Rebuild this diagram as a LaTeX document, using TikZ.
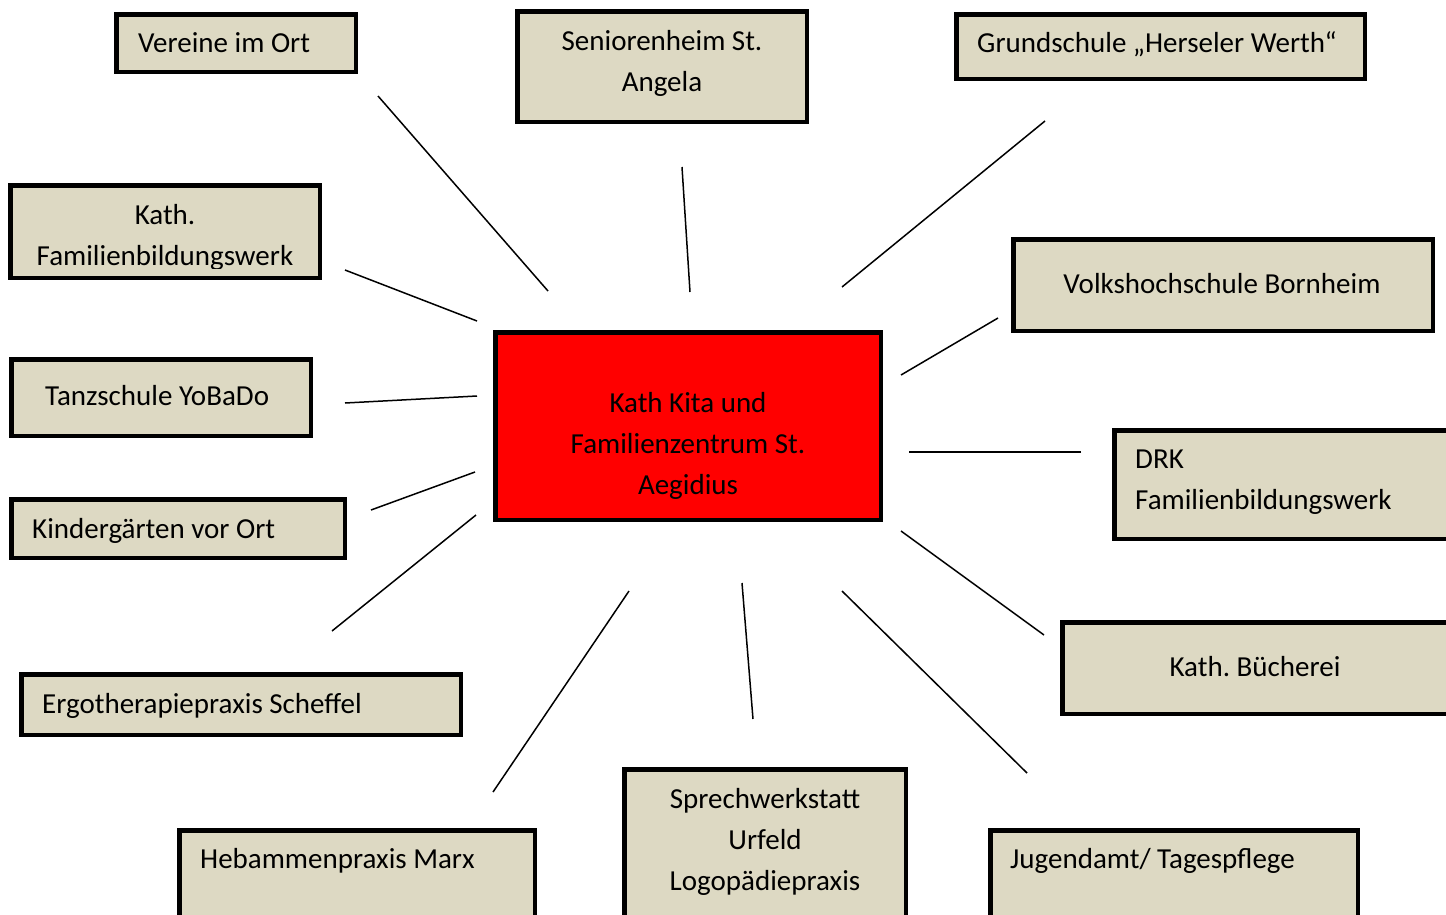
\documentclass[tikz,border=0pt]{standalone}
\usepackage{fontspec}
\setmainfont{Carlito}
\frenchspacing
\definecolor{boxfill}{RGB}{221,217,195}
\definecolor{kitared}{RGB}{255,0,0}
\begin{document}
\begin{tikzpicture}[x=1pt,y=-1pt,
  box/.style={draw=black,line width=4.5pt,fill=boxfill,rectangle,inner sep=0pt},
  txt/.style={inner sep=0pt,font=\fontsize{29}{41}\selectfont,text=black},
  link/.style={draw=black,line width=1.5pt}]
\clip (0,0) rectangle (1446,914);
\fill[white] (0,0) rectangle (1446,914);
% boxes
\node[box,minimum width=239.5pt,minimum height=57.5pt] (b1) at (236,43) {};
\node[box,minimum width=289.5pt,minimum height=110.5pt] (b2) at (662,66.5) {};
\node[box,minimum width=408.5pt,minimum height=64.5pt] (b3) at (1160.5,46.5) {};
\node[box,minimum width=309.5pt,minimum height=92.5pt] (b4) at (165,231.5) {};
\node[box,minimum width=419.5pt,minimum height=91.5pt] (b5) at (1223,285) {};
\node[box,minimum width=299.5pt,minimum height=76.5pt] (b6) at (161,397.5) {};
\node[box,fill=kitared,minimum width=385.5pt,minimum height=187.5pt] (b7) at (688,426) {};
\node[box,minimum width=355.5pt,minimum height=108.5pt] (b8) at (1292,484.5) {};
\node[box,minimum width=333.5pt,minimum height=58.5pt] (b9) at (178,528.5) {};
\node[box,minimum width=385.5pt,minimum height=91.5pt] (b10) at (1255,668) {};
\node[box,minimum width=439.5pt,minimum height=60.5pt] (b11) at (241,704.5) {};
\node[box,minimum width=355.5pt,minimum height=97.5pt] (b12) at (357,879) {};
\node[box,minimum width=281.5pt,minimum height=158.5pt] (b13) at (765,848.5) {};
\node[box,minimum width=367.5pt,minimum height=97.5pt] (b14) at (1174,879) {};
% texts
\node[txt,anchor=mid west] (t1) at (138,50) {Vereine im Ort};
\node[txt,anchor=base,align=center] (t2) at (662,91.3) {Seniorenheim St.\\Angela};
\node[txt,anchor=mid west] (t3) at (977,50.5) {Grundschule „Herseler Werth“};
\begin{scope}
\clip (8,183) rectangle (322,268);
\node[txt,anchor=base,align=center] (t4) at (165,265.3) {Kath.\\Familienbildungswerk};
\end{scope}
\node[txt,anchor=mid] (t5) at (1222,291.5) {Volkshochschule Bornheim};
\node[txt,anchor=mid west] (t6) at (45,403.5) {Tanzschule YoBaDo};
\node[txt,anchor=base,align=center] (t7) at (688,494.3) {Kath Kita und\\Familienzentrum St.\\Aegidius};
\node[txt,anchor=base west,align=left] (t8) at (1135,509.3) {DRK\\Familienbildungswerk};
\node[txt,anchor=mid west] (t9) at (32,536.5) {Kindergärten vor Ort};
\node[txt,anchor=mid] (t10) at (1255,674) {Kath. Bücherei};
\node[txt,anchor=mid west] (t11) at (42,711.5) {Ergotherapiepraxis Scheffel};
\node[txt,anchor=mid west] (t12) at (200,866.5) {Hebammenpraxis Marx};
\node[txt,anchor=base,align=center] (t13) at (765,890.3) {Sprechwerkstatt\\Urfeld\\Logopädiepraxis};
\node[txt,anchor=mid west] (t14) at (1010,866.5) {Jugendamt/ Tagespflege};
% connector end points
\coordinate (a1) at (378,96);   \coordinate (c1) at (548,291);
\coordinate (a2) at (682,167);  \coordinate (c2) at (690,292);
\coordinate (a3) at (1045,121); \coordinate (c3) at (842,287);
\coordinate (a4) at (345,270);  \coordinate (c4) at (477,321);
\coordinate (a5) at (998,318);  \coordinate (c5) at (901,375);
\coordinate (a6) at (345,403);  \coordinate (c6) at (477,396);
\coordinate (a8) at (1081,452); \coordinate (c8) at (909,452);
\coordinate (a9) at (371,510);  \coordinate (c9) at (475,472);
\coordinate (a10) at (1044,635); \coordinate (c10) at (901,531);
\coordinate (a11) at (332,631); \coordinate (c11) at (476,515);
\coordinate (a12) at (493,792); \coordinate (c12) at (629,591);
\coordinate (a13) at (753,719); \coordinate (c13) at (742,583);
\coordinate (a14) at (1027,773); \coordinate (c14) at (842,591);
\foreach \i in {1,2,3,4,5,6,8,9,10,11,12,13,14}{\draw[link] (a\i) -- (c\i);}
\end{tikzpicture}
\end{document}
